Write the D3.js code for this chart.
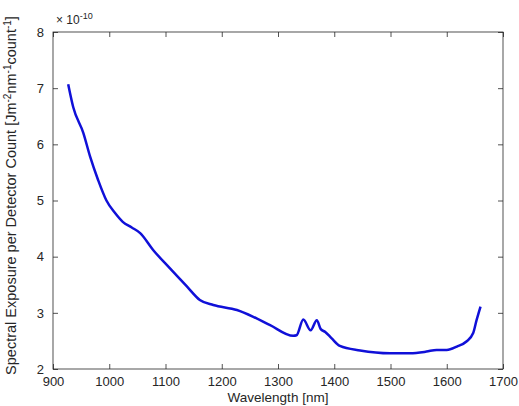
<!DOCTYPE html>
<html>
<head>
<meta charset="utf-8">
<script src="https://cdn.jsdelivr.net/npm/d3@7"></script>
<style>
  body { margin: 0; background: #fff; }
  text { font-family: "Liberation Sans", Arial, sans-serif; fill: #262626; }
</style>
</head>
<body>
<svg width="519" height="406"></svg>
<script>
// wavelength (nm) and spectral exposure (x 1e-10)
var wavelength = [927, 936, 954, 966, 980, 995, 1010, 1024, 1040, 1055, 1078, 1108, 1138, 1161, 1185,
  1227, 1256, 1286, 1327, 1333, 1345, 1358, 1369, 1376, 1384, 1395, 1410, 1446, 1499, 1535,
  1564, 1582, 1600, 1618, 1635, 1647, 1653, 1660];
var exposure = [7.07, 6.66, 6.2, 5.78, 5.37, 5.0, 4.78, 4.62, 4.52, 4.42, 4.12, 3.79, 3.47, 3.23, 3.14,
  3.05, 2.93, 2.78, 2.59, 2.6, 2.88, 2.69, 2.87, 2.71, 2.66, 2.55, 2.41, 2.33, 2.28, 2.28,
  2.31, 2.34, 2.34, 2.40, 2.49, 2.64, 2.87, 3.11];
var xTicks = [900, 1000, 1100, 1200, 1300, 1400, 1500, 1600, 1700];
var yTicks = [2, 3, 4, 5, 6, 7, 8];

var data = wavelength.map((w, i) => ({ x: w, y: exposure[i] }));

var svg = d3.select("svg"),
  margin = { top: 32, right: 16, bottom: 37, left: 53 },
  width = svg.attr("width") - margin.left - margin.right,
  height = svg.attr("height") - margin.top - margin.bottom,
  g = svg.append("g").attr("transform", "translate(" + margin.left + "," + margin.top + ")");

var x = d3.scaleLinear().domain([900, 1700]).range([0, width]),
  y = d3.scaleLinear().domain([2, 8]).range([height, 0]);

// axes with inward ticks
function styleAxis(sel) {
  sel.select(".domain").remove();
  sel.selectAll("line").attr("stroke", "#262626").attr("stroke-width", 0.8);
  sel.selectAll("text").style("font-size", "13px").attr("fill", "#262626");
}

g.append("g")
  .attr("transform", "translate(0," + height + ")")
  .call(d3.axisBottom(x).tickValues(xTicks).tickSizeInner(-5).tickSizeOuter(0).tickPadding(8).tickFormat(d3.format("d")))
  .call(styleAxis);

g.append("g")
  .call(d3.axisTop(x).tickValues(xTicks).tickSizeInner(-5).tickSizeOuter(0).tickFormat(""))
  .call(styleAxis);

g.append("g")
  .call(d3.axisLeft(y).tickValues(yTicks).tickSizeInner(-5).tickSizeOuter(0).tickPadding(9).tickFormat(d3.format("d")))
  .call(styleAxis);

g.append("g")
  .attr("transform", "translate(" + width + ",0)")
  .call(d3.axisRight(y).tickValues(yTicks).tickSizeInner(-5).tickSizeOuter(0).tickFormat(""))
  .call(styleAxis);

// box
g.append("rect")
  .attr("width", width)
  .attr("height", height)
  .attr("fill", "none")
  .attr("stroke", "#262626")
  .attr("stroke-width", 0.8);

// line
var line = d3.line()
  .x(d => x(d.x))
  .y(d => y(d.y))
  .curve(d3.curveMonotoneX);

g.append("path")
  .datum(data)
  .attr("fill", "none")
  .attr("stroke", "#1010d8")
  .attr("stroke-width", 2.5)
  .attr("stroke-linejoin", "round")
  .attr("d", line);

// exponent label
var ex = g.append("text").attr("x", 3).attr("y", -8).style("font-size", "12px");
ex.append("tspan").text("\u00d7 10");
ex.append("tspan").attr("dy", -5).style("font-size", "9px").text("-10");

// axis labels
g.append("text")
  .attr("x", width / 2)
  .attr("y", height + 33)
  .attr("text-anchor", "middle")
  .style("font-size", "13.5px")
  .text("Wavelength [nm]");

var yl = g.append("text")
  .attr("transform", "translate(-37," + (height / 2 - 5) + ") rotate(-90)")
  .attr("text-anchor", "middle")
  .style("font-size", "14.5px");
yl.append("tspan").text("Spectral Exposure per Detector Count [Jm");
yl.append("tspan").attr("dy", -5).style("font-size", "10px").text("-2");
yl.append("tspan").attr("dy", 5).text("nm");
yl.append("tspan").attr("dy", -5).style("font-size", "10px").text("-1");
yl.append("tspan").attr("dy", 5).text("count");
yl.append("tspan").attr("dy", -5).style("font-size", "10px").text("-1");
yl.append("tspan").attr("dy", 5).text("]");
</script>
</body>
</html>
